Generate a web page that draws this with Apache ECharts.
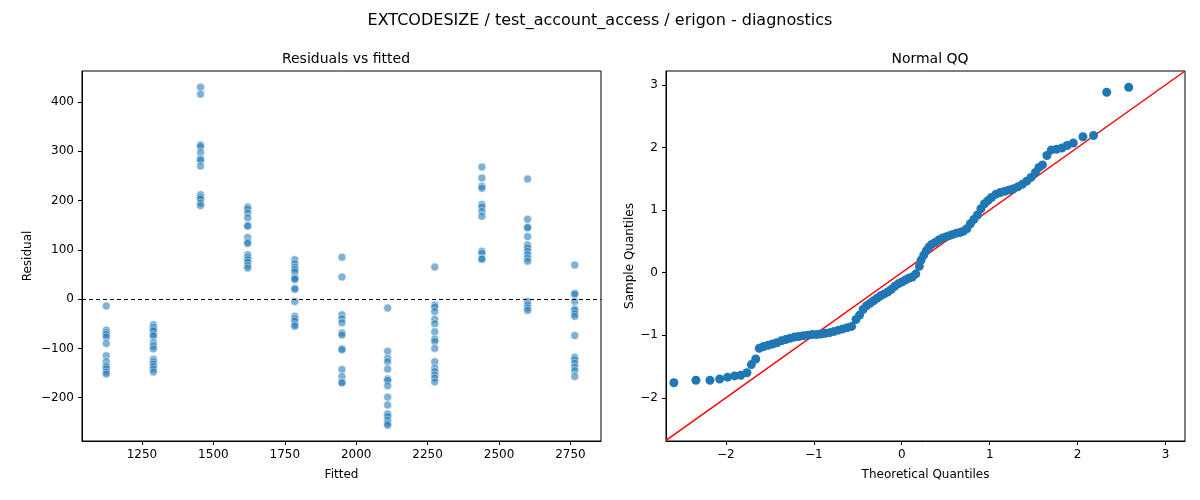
<!DOCTYPE html>
<html><head><meta charset="utf-8">
<script src="https://cdn.jsdelivr.net/npm/echarts@6/dist/echarts.min.js"></script>
<style>html,body{margin:0;padding:0;background:#fff}#c{width:1200px;height:500px}</style>
</head><body><div id="c"></div>
<script>
const fittedGroups = [1125,1290,1455,1620,1785,1950,2110,2275,2440,2600,2765];
const residualGroups = [
 [-14,-63,-68,-72,-77,-90,-115,-127,-135,-138,-142,-148,-152],
 [-52,-57,-62,-65,-72,-75,-88,-95,-101,-122,-127,-132,-137,-142,-148],
 [430,416,313,310,298,285,282,270,212,207,203,195,190],
 [187,183,175,165,150,148,125,116,113,90,85,80,75,68,63],
 [80,72,65,60,55,45,42,40,22,20,-5,-35,-40,-45,-52,-55],
 [85,45,-32,-40,-48,-69,-73,-101,-103,-143,-157,-169,-170],
 [-18,-106,-120,-127,-142,-162,-165,-176,-199,-215,-233,-238,-246,-252,-256],
 [65,-12,-16,-25,-41,-50,-66,-81,-86,-100,-127,-140,-147,-154,-160,-168],
 [268,246,229,225,192,187,178,168,97,93,82,81],
 [244,162,146,145,127,110,104,97,90,83,77,-5,-12,-18,-23],
 [69,12,10,-5,-20,-23,-30,-35,-74,-118,-123,-130,-138,-145,-157]
];
const fittedTicks = [1250,1500,1750,2000,2250,2500,2750];
const residTicks = [-200,-100,0,100,200,300,400];
const qqTicks = [-2,-1,0,1,2,3];
const qqTheoretical = [-2.59,-2.34,-2.18,-2.07,-1.98,-1.90,-1.83,-1.76,-1.71,-1.66,-1.62,-1.57,-1.52,-1.47,-1.42,-1.37,-1.32,-1.27,-1.22,-1.17,-1.12,-1.07,-1.02,-0.97,-0.92,-0.87,-0.82,-0.77,-0.72,-0.67,-0.62,-0.57,-0.52,-0.48,-0.44,-0.40,-0.36,-0.32,-0.28,-0.24,-0.20,-0.16,-0.12,-0.08,-0.04,0.00,0.04,0.08,0.12,0.16,0.20,0.22,0.25,0.28,0.31,0.34,0.38,0.42,0.46,0.50,0.54,0.58,0.62,0.66,0.70,0.74,0.78,0.82,0.86,0.90,0.94,0.98,1.02,1.07,1.12,1.17,1.22,1.27,1.32,1.37,1.42,1.47,1.52,1.56,1.60,1.65,1.70,1.76,1.82,1.88,1.95,2.06,2.18,2.33,2.58];
const qqSample = [-1.76,-1.72,-1.72,-1.70,-1.67,-1.65,-1.64,-1.60,-1.47,-1.38,-1.21,-1.18,-1.16,-1.14,-1.12,-1.09,-1.07,-1.05,-1.03,-1.02,-1.01,-1.00,-0.99,-0.99,-0.98,-0.97,-0.96,-0.94,-0.92,-0.90,-0.88,-0.86,-0.75,-0.68,-0.59,-0.53,-0.49,-0.45,-0.41,-0.37,-0.34,-0.31,-0.27,-0.22,-0.18,-0.15,-0.12,-0.09,-0.07,-0.02,0.10,0.20,0.28,0.35,0.41,0.45,0.48,0.52,0.55,0.57,0.59,0.61,0.63,0.64,0.66,0.70,0.78,0.85,0.92,1.02,1.10,1.15,1.20,1.25,1.28,1.30,1.32,1.34,1.37,1.41,1.46,1.52,1.60,1.68,1.72,1.87,1.96,1.97,1.99,2.03,2.07,2.17,2.19,2.88,2.96];

const resid = [];
fittedGroups.forEach((f,i)=>residualGroups[i].forEach(r=>resid.push([f,r])));
const qq = qqTheoretical.map((t,i)=>[t,qqSample[i]]);

const font='DejaVu Sans';
const minus=v=>String(v).replace('-','\u2212');
function axis(o,ticks){return Object.assign({
  axisLine:{show:true,onZero:false,lineStyle:{color:'#000'}},
  axisTick:{show:true,inside:false,length:4,lineStyle:{color:'#000'},customValues:ticks},
  axisLabel:{color:'#000',fontSize:12,fontFamily:font,customValues:ticks,formatter:minus},
  splitLine:{show:false},
  nameTextStyle:{color:'#000',fontSize:12,fontFamily:font},
  nameLocation:'middle'},o);}
const chart=echarts.init(document.getElementById('c'));
chart.setOption({
 animation:false,
 textStyle:{fontFamily:font},
 title:[
  {text:'EXTCODESIZE / test_account_access / erigon - diagnostics',left:'center',top:8,textStyle:{fontSize:16,fontWeight:'normal',color:'#000',fontFamily:font}},
  {text:'Residuals vs fitted',left:341,top:47,textAlign:'center',textStyle:{fontSize:14,fontWeight:'normal',color:'#000',fontFamily:font}},
  {text:'Normal QQ',left:925,top:47,textAlign:'center',textStyle:{fontSize:14,fontWeight:'normal',color:'#000',fontFamily:font}}
 ],
 grid:[
  {left:82,width:519,top:71,height:370,show:true,borderColor:'#000',borderWidth:1,backgroundColor:'transparent'},
  {left:666,width:519,top:71,height:370,show:true,borderColor:'#000',borderWidth:1,backgroundColor:'transparent'}
 ],
 xAxis:[
  axis({gridIndex:0,type:'value',min:1040,max:2857,name:'Fitted',nameGap:28},fittedTicks),
  axis({gridIndex:1,type:'value',min:-2.68,max:3.22,name:'Theoretical Quantiles',nameGap:28},qqTicks)
 ],
 yAxis:[
  axis({gridIndex:0,type:'value',min:-288,max:463,name:'Residual',nameGap:48},residTicks),
  axis({gridIndex:1,type:'value',min:-2.69,max:3.22,name:'Sample Quantiles',nameGap:30},qqTicks)
 ],
 series:[
  {type:'scatter',xAxisIndex:0,yAxisIndex:0,data:resid,symbolSize:8,
   itemStyle:{color:'rgba(31,119,180,0.72)',borderColor:'#fff',borderWidth:0.6},
   markLine:{silent:true,symbol:'none',label:{show:false},lineStyle:{color:'#000',type:[4,3],width:1},data:[{yAxis:0}]}},
  {type:'line',xAxisIndex:1,yAxisIndex:1,data:[[-2.68,-2.68],[3.22,3.22]],showSymbol:false,lineStyle:{color:'#ff0000',width:1.5},z:1},
  {type:'scatter',xAxisIndex:1,yAxisIndex:1,data:qq,symbolSize:9,itemStyle:{color:'#1f77b4',opacity:1},z:2}
 ]
});
</script></body></html>
